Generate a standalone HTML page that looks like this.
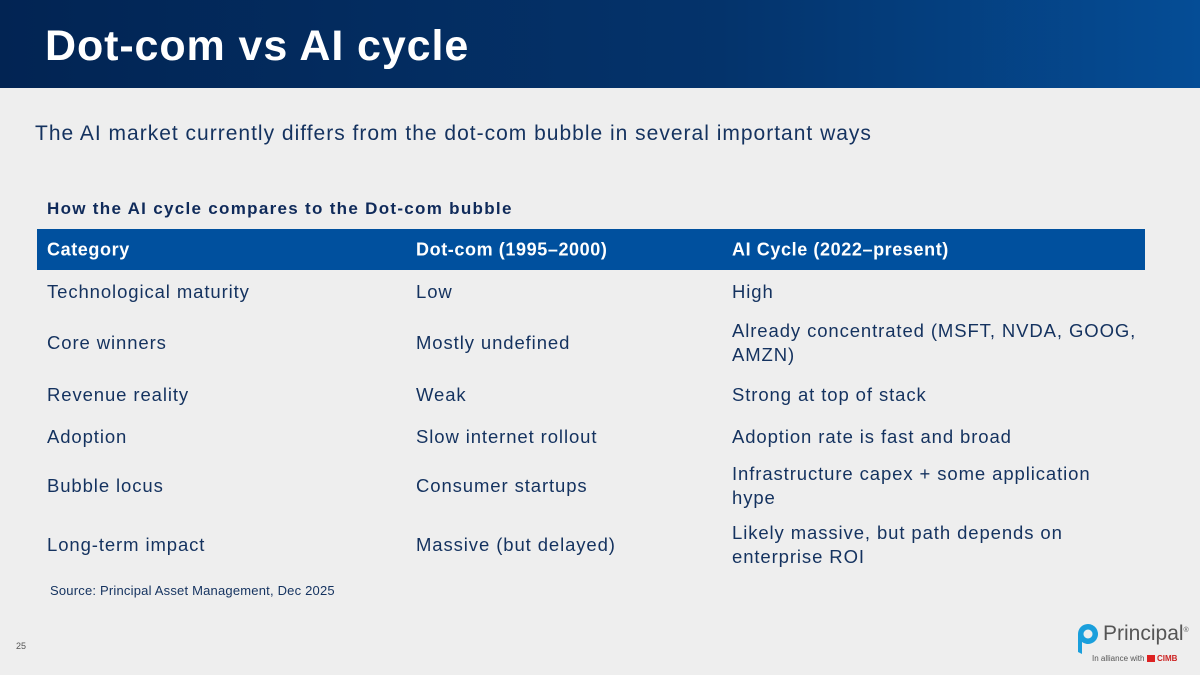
<!DOCTYPE html>
<html><head><meta charset="utf-8"><style>
*{margin:0;padding:0;box-sizing:border-box}
body{width:1200px;height:675px;background:#eeeeee;font-family:"Liberation Sans",sans-serif;position:relative;overflow:hidden;color:#0f2a5a}
.hdr{position:absolute;left:0;top:0;width:1200px;height:88px;background:linear-gradient(90deg,#022453 0%,#04336b 60%,#054d96 100%)}
.hdr h1{position:absolute;left:45px;top:22px;font-size:43px;color:#fff;font-weight:bold;letter-spacing:0.9px}
.sub{position:absolute;left:35px;top:122px;font-size:21px;color:#14325f;letter-spacing:1px}
.tt{position:absolute;left:47px;top:199px;font-size:17px;font-weight:bold;color:#0f2a5a;letter-spacing:1.3px}
.th{position:absolute;left:37px;top:229px;width:1108px;height:41px;background:#00509e;color:#fff;font-weight:bold;font-size:18px;letter-spacing:0.6px}
.th span,.r span{position:absolute;top:50%;transform:translateY(-50%)}
.c1{left:10px}.c2{left:379px}.c3{left:695px}
.r{position:absolute;left:37px;width:1108px;font-size:18.5px;color:#14325f;line-height:24px;letter-spacing:0.9px}
.src{position:absolute;left:50px;top:583px;font-size:13px;color:#14325f;letter-spacing:0.2px}
.pn{position:absolute;left:16px;top:641px;font-size:9px;color:#555}
</style></head><body>
<div class="hdr"><h1>Dot-com vs AI cycle</h1></div>
<div class="sub">The AI market currently differs from the dot-com bubble in several important ways</div>
<div class="tt">How the AI cycle compares to the Dot-com bubble</div>
<div class="th"><span class="c1">Category</span><span class="c2">Dot-com (1995–2000)</span><span class="c3">AI Cycle (2022–present)</span></div>
<div class="r" style="top:271px;height:42px"><span class="c1">Technological maturity</span><span class="c2">Low</span><span class="c3">High</span></div>
<div class="r" style="top:315px;height:56px"><span class="c1">Core winners</span><span class="c2">Mostly undefined</span><span class="c3" style="width:420px">Already concentrated (MSFT, NVDA, GOOG, AMZN)</span></div>
<div class="r" style="top:374px;height:42px"><span class="c1">Revenue reality</span><span class="c2">Weak</span><span class="c3">Strong at top of stack</span></div>
<div class="r" style="top:416px;height:42px"><span class="c1">Adoption</span><span class="c2">Slow internet rollout</span><span class="c3">Adoption rate is fast and broad</span></div>
<div class="r" style="top:458px;height:56px"><span class="c1">Bubble locus</span><span class="c2">Consumer startups</span><span class="c3" style="width:380px">Infrastructure capex + some application hype</span></div>
<div class="r" style="top:517px;height:56px"><span class="c1">Long-term impact</span><span class="c2">Massive (but delayed)</span><span class="c3" style="width:380px">Likely massive, but path depends on enterprise ROI</span></div>
<div class="src">Source: Principal Asset Management, Dec 2025</div>
<div class="pn">25</div>
<svg style="position:absolute;left:1076px;top:622px" width="24" height="34" viewBox="0 0 24 34">
<path d="M12 2a10 10 0 1 1 -6 18 L6 32 L2 30 L2 12 A10 10 0 0 1 12 2z" fill="#1a9fdc"/>
<circle cx="12" cy="12" r="4.5" fill="#eee"/></svg>
<div style="position:absolute;left:1103px;top:622px;font-size:21px;color:#555">Principal<sup style="font-size:7px">®</sup></div>
<div style="position:absolute;left:1092px;top:654px;font-size:8px;color:#555">In alliance with <span style="display:inline-block;width:8px;height:7px;background:#d22;vertical-align:-1px"></span> <b style="color:#c22">CIMB</b></div>
</body></html>
